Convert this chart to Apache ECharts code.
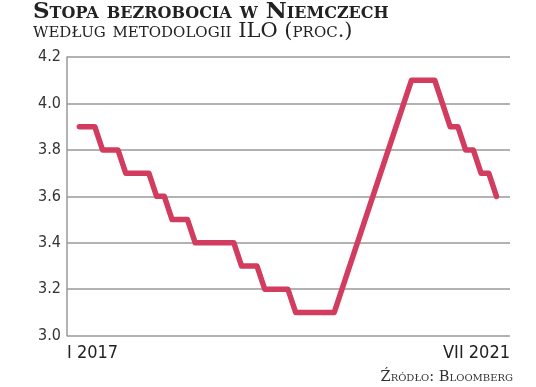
<!DOCTYPE html>
<html><head><meta charset="utf-8">
<script src="https://cdn.jsdelivr.net/npm/echarts@6/dist/echarts.min.js"></script>
<style>html,body{margin:0;padding:0;background:#fff}#c{width:536px;height:387px}</style>
</head><body><div id="c"></div>
<script>
// months since Jan 2017 (0 = I 2017, 54 = VII 2021)
var months = [];
for (var i = 0; i <= 54; i++) months.push(i);
var rate = [3.9,3.9,3.9, 3.8,3.8,3.8, 3.7,3.7,3.7,3.7, 3.6,3.6, 3.5,3.5,3.5,
  3.4,3.4,3.4,3.4,3.4,3.4, 3.3,3.3,3.3, 3.2,3.2,3.2,3.2, 3.1,3.1,3.1,3.1,3.1,3.1,
  null,null,null,null,null,null,null,null,null,
  4.1,4.1,4.1,4.1, 4.0, 3.9,3.9, 3.8,3.8, 3.7,3.7, 3.6];
var xTickValues = [-1.6, 55.75];
var xTickLabels = ['I 2017', 'VII 2021'];
var yTicks = [3.0, 3.2, 3.4, 3.6, 3.8, 4.0, 4.2];

var data = months.map(function (m, i) { return [m, rate[i]]; });
var chart = echarts.init(document.getElementById('c'), null, {renderer: 'canvas'});
var narrow = '"Liberation Sans Narrow", "DejaVu Sans Condensed", sans-serif';
var serif = '"DejaVu Serif", serif';
chart.setOption({
  animation: false,
  title: [{
    text: 'Stopa bezrobocia w Niemczech',
    left: 33, top: 1, padding: 0,
    textStyle: {fontFamily: serif, fontStyle: 'small-caps', fontWeight: 'bold', fontSize: 23, color: '#222'}
  }, {
    text: 'według metodologii ILO (proc.)',
    left: 33, top: 21, padding: 0,
    textStyle: {fontFamily: serif, fontStyle: 'small-caps', fontWeight: 'normal', fontSize: 21, color: '#222'}
  }, {
    text: 'Źródło: Bloomberg',
    right: 23, top: 370, padding: 0,
    textStyle: {fontFamily: serif, fontStyle: 'small-caps', fontWeight: 'normal', fontSize: 14.6, color: '#333'}
  }],
  grid: {left: 67, right: 26, top: 57, bottom: 51.3},
  xAxis: {
    type: 'value', min: xTickValues[0], max: xTickValues[1],
    axisLine: {show: false}, axisTick: {show: false}, splitLine: {show: false},
    axisLabel: {
      customValues: xTickValues,
      alignMinLabel: 'left', alignMaxLabel: 'right',
      margin: 9, fontFamily: narrow, fontSize: 18, color: '#222',
      formatter: function (v) { return v < 20 ? xTickLabels[0] : xTickLabels[1]; }
    }
  },
  yAxis: {
    type: 'value', min: yTicks[0], max: yTicks[yTicks.length - 1], interval: 0.2,
    axisLine: {show: true, onZero: false, lineStyle: {color: '#999', width: 1.5}},
    axisTick: {show: false},
    splitLine: {show: true, lineStyle: {color: '#999', width: 1.5}},
    axisLabel: {margin: 6, fontFamily: narrow, fontSize: 16, color: '#333',
      formatter: function (v) { return v.toFixed(1); }}
  },
  series: [{
    type: 'line', data: data, connectNulls: true, showSymbol: false,
    lineStyle: {color: '#d23c5e', width: 5.5, join: 'round', cap: 'round'}
  }]
});
</script></body></html>
